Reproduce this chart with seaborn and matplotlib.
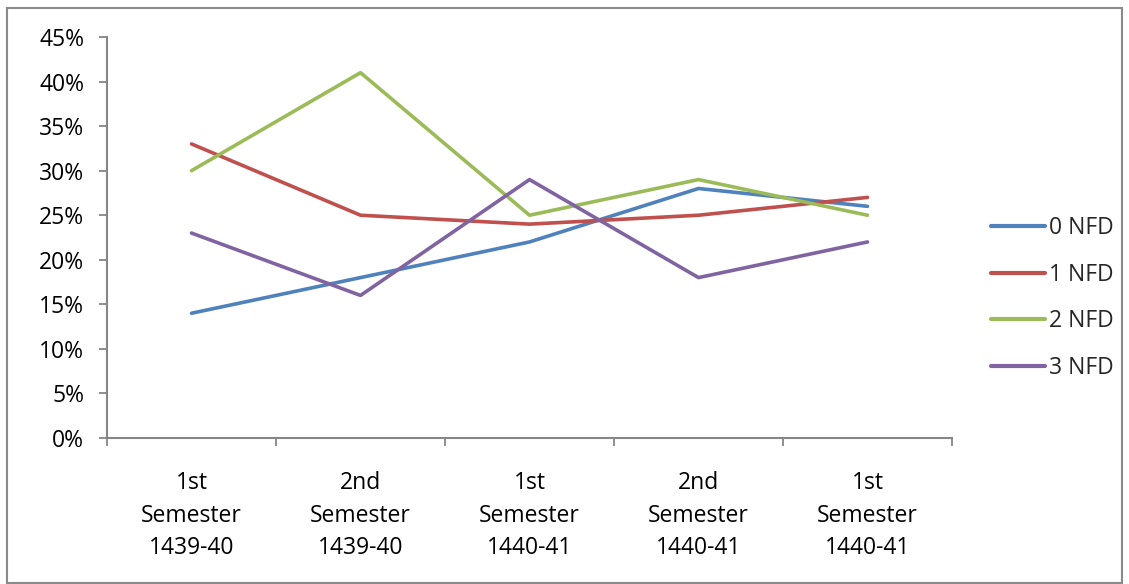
import numpy as np
import pandas as pd
import matplotlib
matplotlib.use("Agg")
import matplotlib.pyplot as plt
from matplotlib.patches import Rectangle
from matplotlib.ticker import FuncFormatter, FixedLocator
import seaborn as sns

categories = ["1st\nSemester\n1439-40", "2nd\nSemester\n1439-40", "1st\nSemester\n1440-41",
              "2nd\nSemester\n1440-41", "1st\nSemester\n1440-41"]
series_names = ["0 NFD", "1 NFD", "2 NFD", "3 NFD"]
nfd0 = [14, 18, 22, 28, 26]
nfd1 = [33, 25, 24, 25, 27]
nfd2 = [30, 41, 25, 29, 25]
nfd3 = [23, 16, 29, 18, 22]
colors = ["#4F81BD", "#C0504D", "#9BBB59", "#8064A2"]

rows = []
for name, vals in zip(series_names, [nfd0, nfd1, nfd2, nfd3]):
    for i, v in enumerate(vals):
        rows.append({"pos": i, "value": v / 100.0, "series": name})
df = pd.DataFrame(rows)

sns.set_theme(style="white")
plt.rcParams["font.family"] = ["Open Sans", "DejaVu Sans"]

FS = 16.5
W, H = 1129, 584
fig = plt.figure(figsize=(W / 100, H / 100), dpi=100)
ax = fig.add_axes([107 / W, 1 - 438 / H, (952 - 107) / W, (438 - 37) / H])

sns.lineplot(data=df, x="pos", y="value", hue="series", palette=colors,
             hue_order=series_names, linewidth=2.6, sort=False, ax=ax, legend=True)

axis_col = "#868686"
ax.set_xlim(-0.5, len(categories) - 0.5)
ax.set_ylim(0, 0.45)
ax.set_yticks(np.arange(0, 0.4501, 0.05))
ax.yaxis.set_major_formatter(FuncFormatter(lambda v, p: f"{v * 100:.0f}%"))
ax.set_xticks(range(len(categories)))
ax.set_xticklabels(categories, linespacing=1.46)
ax.xaxis.set_minor_locator(FixedLocator(np.arange(-0.5, len(categories), 1.0)))
ax.set_xlabel("")
ax.set_ylabel("")

for s in ["top", "right"]:
    ax.spines[s].set_visible(False)
for s in ["left", "bottom"]:
    ax.spines[s].set_color(axis_col)
    ax.spines[s].set_linewidth(1.5)

ax.tick_params(axis="y", which="major", direction="out", length=5.5, width=1.3,
               color=axis_col, labelsize=FS, labelcolor="black", pad=11, left=True)
ax.tick_params(axis="x", which="major", length=0, labelsize=FS, labelcolor="black", pad=24)
ax.tick_params(axis="x", which="minor", direction="out", length=5.5, width=1.3,
               color=axis_col, bottom=True)

leg = ax.legend(loc="center left", bbox_to_anchor=(991 / W, 1 - 298 / H),
                bbox_transform=fig.transFigure, frameon=False, fontsize=FS,
                handlelength=2.36, handletextpad=0.17, labelspacing=1.0,
                borderpad=0, borderaxespad=0)
for line in leg.get_lines():
    line.set_linewidth(3)

fig.patches.append(Rectangle((7 / W, 1 / H), (1122 - 7) / W, (576 - 1) / H,
                             transform=fig.transFigure, fill=False,
                             edgecolor="#8a8a8a", linewidth=1.5))

fig.savefig("out.png", dpi=100, facecolor="white")
